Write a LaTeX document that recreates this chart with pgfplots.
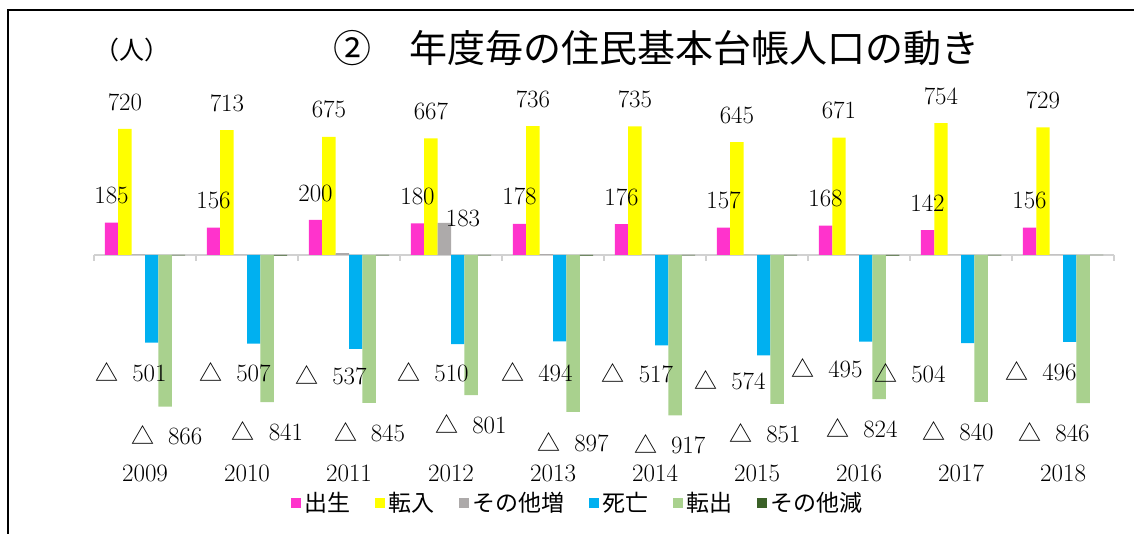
\documentclass[border=0pt]{standalone}
\usepackage{pgfplots}
\usepackage{pgfplotstable}
\pgfplotsset{compat=1.18}
\usepackage{fontspec}
\newfontfamily\cjk{Noto Sans CJK JP}
\definecolor{cBirth}{HTML}{FF33CC}
\definecolor{cIn}{HTML}{FFFF00}
\definecolor{cOtherInc}{HTML}{ADAAAA}
\definecolor{cDeath}{HTML}{00B0F0}
\definecolor{cOut}{HTML}{A9D18E}
\definecolor{cOtherDec}{HTML}{3B6128}

\pgfplotstableread{
x birth in oinc death out odec
0 185 720 3 -501 -866 -2
1 156 713 2 -507 -841 -3
2 200 675 10 -537 -845 -2
3 180 667 183 -510 -801 -2
4 178 736 5 -494 -897 -3
5 176 735 3 -517 -917 -2
6 157 645 2 -574 -851 -2
7 168 671 3 -495 -824 -3
8 142 754 2 -504 -840 -2
9 156 729 2 -496 -846 -1
}\data

% label positions for death (死亡)
\pgfplotstableread{
x y v
-0.137 -669 501
0.882 -669 507
1.824 -686 537
2.824 -669 510
3.843 -669 494
4.828 -674 517
5.735 -714 574
6.686 -646 495
7.500 -674 504
8.784 -663 496
}\deathlab

% label positions for out-migration (転出)
\pgfplotstableread{
x y v
0.213 -1029 866
1.201 -1004 841
2.201 -1011 845
3.196 -966 801
4.196 -1069 897
5.144 -1080 917
6.078 -1017 851
7.029 -989 824
7.971 -1006 840
8.912 -1011 846
}\outlab

\pgfplotstableread{
x y v
3.118 206 183
}\oinclab

\begin{document}
\begin{tikzpicture}
\useasboundingbox (0pt,0pt) rectangle (1134pt,534pt);
\draw[line width=2.5pt] (8pt,0pt) -- (8pt,524pt) -- (1134pt,524pt);
\node[font=\cjk\fontsize{25}{27}\selectfont] at (132pt,484pt) {（人）};
\node[font=\cjk\fontsize{38}{40}\selectfont, anchor=west, inner sep=0pt] at (333pt,486pt) {②\hspace{1em}年度毎の住民基本台帳人口の動き};
\begin{axis}[
  at={(94pt,69pt)}, anchor=south west,
  scale only axis, width=1020pt, height=350pt,
  xmin=-0.5, xmax=9.5, ymin=-1200, ymax=800,
  clip=false,
  axis line style={draw=none},
  ytick=\empty,
  xtick={0,...,9},
  xticklabels={2009,2010,2011,2012,2013,2014,2015,2016,2017,2018},
  major tick length=0pt,
  xticklabel style={anchor=center, yshift=-8pt, font=\fontsize{25}{27}\selectfont},
  legend style={at={(0.475,-0.1086)}, anchor=center, draw=none, fill=none,
    legend columns=6, font=\cjk\fontsize{23}{25}\selectfont,
    /tikz/every even column/.append style={column sep=20pt},
    /tikz/every odd column/.append style={column sep=0pt},
    /tikz/every node/.append style={inner xsep=4pt}},
  legend image code/.code={\fill[#1] (0pt,-5pt) rectangle (10pt,5pt);},
]
\draw[color=black!18, line width=1.5pt] (axis cs:-0.5,0) -- (axis cs:9.5,0);
\pgfplotsinvokeforeach{0,...,10}{
  \draw[color=black!18, line width=1.5pt] (axis cs:#1-0.5,0) -- ++(0pt,-6pt);
}
\addplot[ybar, bar width=13.4pt, bar shift=-33.5pt, fill=cBirth, draw=none,
  nodes near coords, every node near coord/.append style={anchor=center, xshift=-33.5pt, yshift=27pt, font=\fontsize{23}{26}\selectfont, text=black}]
  table[x=x, y=birth] {\data};
\addlegendentry{出生}
\addplot[ybar, bar width=13.4pt, bar shift=-20.1pt, fill=cIn, draw=none,
  nodes near coords, every node near coord/.append style={anchor=center, xshift=-20.1pt, yshift=27pt, font=\fontsize{23}{26}\selectfont, text=black}]
  table[x=x, y=in] {\data};
\addlegendentry{転入}
\addplot[ybar, bar width=13.4pt, bar shift=-6.7pt, fill=cOtherInc, draw=none]
  table[x=x, y=oinc] {\data};
\addlegendentry{その他増}
\addplot[ybar, bar width=13.4pt, bar shift=6.7pt, fill=cDeath, draw=none]
  table[x=x, y=death] {\data};
\addlegendentry{死亡}
\addplot[ybar, bar width=13.4pt, bar shift=20.1pt, fill=cOut, draw=none]
  table[x=x, y=out] {\data};
\addlegendentry{転出}
\addplot[ybar, bar width=13.4pt, bar shift=33.5pt, fill=cOtherDec, draw=none]
  table[x=x, y=odec] {\data};
\addlegendentry{その他減}

\addplot[draw=none, forget plot, point meta=explicit,
  nodes near coords={{\cjk △}\hspace{0.6em}\pgfmathprintnumber{\pgfplotspointmeta}},
  every node near coord/.append style={anchor=center, font=\fontsize{23}{26}\selectfont, text=black}]
  table[x=x, y=y, meta=v] {\deathlab};
\addplot[draw=none, forget plot, point meta=explicit,
  nodes near coords={{\cjk △}\hspace{0.6em}\pgfmathprintnumber{\pgfplotspointmeta}},
  every node near coord/.append style={anchor=center, font=\fontsize{23}{26}\selectfont, text=black}]
  table[x=x, y=y, meta=v] {\outlab};
\addplot[draw=none, forget plot, point meta=explicit,
  nodes near coords,
  every node near coord/.append style={anchor=center, font=\fontsize{23}{26}\selectfont, text=black}]
  table[x=x, y=y, meta=v] {\oinclab};
\end{axis}
\end{tikzpicture}
\end{document}
